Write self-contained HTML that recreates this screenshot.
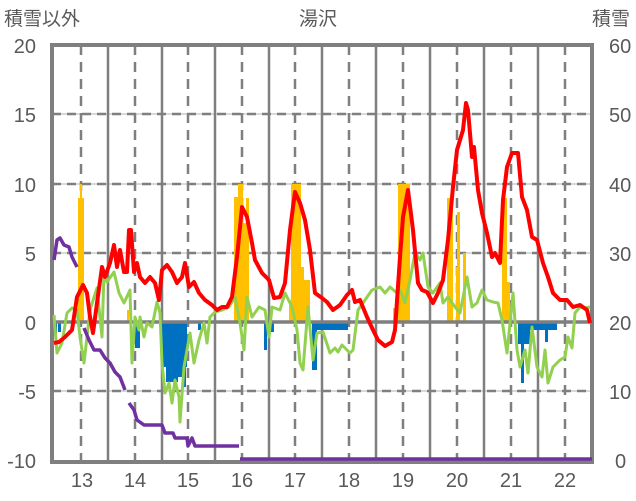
<!DOCTYPE html>
<html><head><meta charset="utf-8"><style>
html,body{margin:0;padding:0;background:#fff;}
svg{display:block;}
text{font-family:"Liberation Sans","Noto Sans CJK JP",sans-serif;fill:#595959;}
</style></head><body>
<svg width="636" height="501" viewBox="0 0 636 501" xmlns="http://www.w3.org/2000/svg">
<rect width="636" height="501" fill="#fff"/>
<!-- horizontal grid -->
<g stroke="#d9d9d9" stroke-width="2">
<line x1="52" y1="114" x2="592" y2="114"/><line x1="52" y1="184" x2="592" y2="184"/><line x1="52" y1="253" x2="592" y2="253"/><line x1="52" y1="391" x2="592" y2="391"/>
</g>
<g stroke="#7f7f7f" stroke-width="2.5" stroke-dasharray="9,6">
<line x1="52" y1="114" x2="592" y2="114"/><line x1="52" y1="184" x2="592" y2="184"/><line x1="52" y1="253" x2="592" y2="253"/><line x1="52" y1="391" x2="592" y2="391"/>
</g>
<!-- vertical solid grid -->
<g stroke="#7f7f7f" stroke-width="2.5">
<line x1="108" y1="45" x2="108" y2="462"/><line x1="162" y1="45" x2="162" y2="462"/><line x1="215" y1="45" x2="215" y2="462"/><line x1="269" y1="45" x2="269" y2="462"/><line x1="322" y1="45" x2="322" y2="462"/><line x1="376" y1="45" x2="376" y2="462"/><line x1="430" y1="45" x2="430" y2="462"/><line x1="484" y1="45" x2="484" y2="462"/><line x1="538" y1="45" x2="538" y2="462"/>
</g>
<g stroke="#7f7f7f" stroke-width="2.5" stroke-dasharray="10,7">
<line x1="81" y1="45" x2="81" y2="462"/><line x1="135" y1="45" x2="135" y2="462"/><line x1="188" y1="45" x2="188" y2="462"/><line x1="242" y1="45" x2="242" y2="462"/><line x1="295" y1="45" x2="295" y2="462"/><line x1="349" y1="45" x2="349" y2="462"/><line x1="403" y1="45" x2="403" y2="462"/><line x1="457" y1="45" x2="457" y2="462"/><line x1="511" y1="45" x2="511" y2="462"/><line x1="565" y1="45" x2="565" y2="462"/>
</g>
<!-- yellow bars -->
<g fill="#FFC000">
<rect x="78" y="198" width="6" height="124"/><rect x="80" y="184" width="2" height="138"/>
<rect x="127" y="310" width="2" height="12"/>
<rect x="234" y="197" width="4" height="125"/><rect x="238" y="184" width="5" height="138"/><rect x="243" y="223" width="3" height="99"/><rect x="246" y="198" width="3" height="124"/>
<rect x="289" y="300" width="4" height="22"/><rect x="291" y="184" width="10" height="138"/><rect x="301" y="267" width="3" height="55"/><rect x="304" y="280" width="6" height="42"/>
<rect x="393" y="308" width="5" height="14"/><rect x="398" y="184" width="12" height="138"/>
<rect x="447" y="198" width="6" height="124"/><rect x="451" y="184" width="2" height="138"/><rect x="456" y="267" width="2" height="55"/><rect x="457" y="212" width="3" height="110"/><rect x="463" y="253" width="3" height="69"/>
<rect x="502" y="198" width="5" height="124"/><rect x="507" y="282" width="3" height="40"/>
</g>
<!-- blue bars -->
<g fill="#0070C0">
<rect x="54" y="322" width="3" height="12"/><rect x="58" y="322" width="3" height="10"/>
<rect x="135" y="322" width="5" height="26"/>
<rect x="162" y="322" width="25" height="45"/><rect x="166" y="322" width="12" height="60"/><rect x="178" y="322" width="8" height="55"/><rect x="183" y="322" width="3" height="65"/>
<rect x="198" y="322" width="3" height="8"/>
<rect x="264" y="322" width="10" height="10"/><rect x="264" y="322" width="3" height="28"/>
<rect x="312" y="322" width="5" height="48"/><rect x="317" y="322" width="31" height="8"/>
<rect x="518" y="322" width="12" height="22"/><rect x="521" y="322" width="3" height="61"/><rect x="530" y="322" width="27" height="8"/><rect x="545" y="322" width="3" height="20"/>
</g>
<!-- frame -->
<rect x="52" y="45" width="540" height="417" fill="none" stroke="#7f7f7f" stroke-width="4"/>
<line x1="52" y1="322" x2="592" y2="322" stroke="#7f7f7f" stroke-width="3.5"/>
<!-- green -->
<polyline fill="none" stroke="#92D050" stroke-width="3" stroke-linejoin="round" points="54,315 57,353 62,343 67,313 72,308 77,310 80,337 84,363 87,337 90,310 97,288 102,337 104,273 107,282 114,272 119,293 124,303 130,290 132,363 135,317 139,330 140,317 144,337 147,323 152,327 157,302 160,313 162,363 165,393 169,383 172,403 175,380 179,397 180,422 184,367 187,350 190,333 194,363 199,340 204,323 207,343 210,317 215,312 222,310 229,307 235,297 240,323 244,350 247,297 252,317 259,307 265,310 269,337 272,307 280,310 285,293 292,307 297,330 300,363 303,370 308,307 313,360 317,333 323,332 330,353 335,348 338,352 342,345 347,350 350,353 353,350 358,310 365,300 372,290 380,287 385,293 390,287 397,293 400,290 405,303 410,280 415,253 420,260 423,253 428,287 433,293 440,283 443,303 448,297 455,307 460,313 467,277 472,307 477,303 482,290 487,300 493,302 498,303 502,320 507,353 513,293 517,350 520,367 525,350 528,373 532,327 537,367 542,377 545,350 548,383 553,367 560,360 565,357 568,337 572,348 575,313 580,307 585,308 590,307"/>
<!-- red -->
<polyline fill="none" stroke="#FF0000" stroke-width="4" stroke-linejoin="round" points="54,343 59,342 65,337 72,330 77,297 83,285 87,293 90,317 93,333 97,303 102,267 105,277 110,263 114,245 117,267 120,250 124,272 127,272 129,230 131,230 134,272 137,263 140,277 145,283 150,277 155,283 159,300 162,270 167,265 172,272 177,283 182,277 185,263 189,287 194,282 199,293 205,300 212,305 217,310 222,307 227,307 232,297 237,257 242,207 247,217 252,243 255,260 262,273 269,280 274,298 280,297 285,283 290,230 295,192 300,203 305,220 310,250 315,293 322,298 327,302 333,310 340,305 347,295 352,290 355,302 360,300 367,317 373,330 378,340 385,346 392,342 395,330 400,257 403,217 408,190 413,230 418,283 422,290 427,292 433,303 438,293 443,280 448,240 453,187 457,150 460,140 463,130 466,103 468,110 472,157 474,147 478,190 482,213 487,233 492,257 495,253 500,263 503,200 507,167 512,153 518,153 522,197 527,210 532,237 537,240 543,263 548,277 553,293 560,300 567,300 573,307 580,305 587,310 590,323"/>
<!-- purple -->
<g fill="none" stroke="#7030A0" stroke-width="3.5" stroke-linejoin="round">
<polyline points="54,260 57,240 60,238 64,245 69,247 72,257 77,267"/>
<polyline points="84,328 89,340 94,350 100,350 105,358 110,363 115,372 120,377 125,390"/>
<polyline points="129,403 134,410 137,420 144,425 162,425 165,433 173,433 175,438 187,438 188,446 192,438 195,446 239,446"/>
<polyline points="240,459 592,459"/>
</g>
<!-- labels -->
<text x="4" y="25" font-size="19">積雪以外</text>
<text x="318" y="25" font-size="19" text-anchor="middle">湯沢</text>
<text x="630" y="25" font-size="19" text-anchor="end">積雪</text>
<g font-size="20" text-anchor="end">
<text x="36" y="53">20</text><text x="36" y="122">15</text><text x="36" y="192">10</text><text x="36" y="261">5</text><text x="36" y="330">0</text><text x="36" y="399">-5</text><text x="36" y="468">-10</text>
</g>
<g font-size="20" text-anchor="start">
<text x="609" y="53">60</text><text x="609" y="122">50</text><text x="609" y="192">40</text><text x="609" y="261">30</text><text x="609" y="330">20</text><text x="609" y="399">10</text><text x="615" y="468">0</text>
</g>
<g font-size="20" text-anchor="middle">
<text x="82" y="487">13</text><text x="135" y="487">14</text><text x="188" y="487">15</text><text x="242" y="487">16</text><text x="295" y="487">17</text><text x="349" y="487">18</text><text x="403" y="487">19</text><text x="457" y="487">20</text><text x="511" y="487">21</text><text x="565" y="487">22</text>
</g>
</svg>
</body></html>
